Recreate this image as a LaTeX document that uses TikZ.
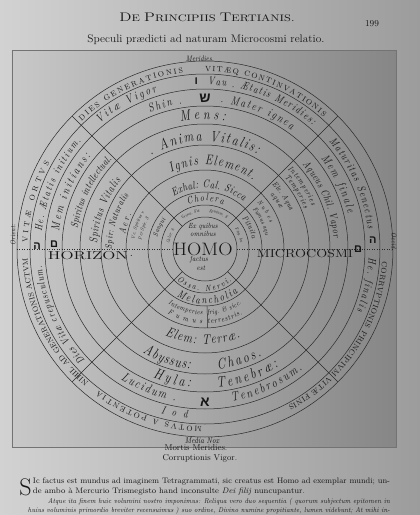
\documentclass[tikz,border=0pt]{standalone}
\usepackage{fontspec}
\usepackage{graphicx}
\usetikzlibrary{decorations.text}
\newfontfamily\heb{Liberation Sans}
\newfontfamily\cit{Latin Modern Roman}[FakeStretch=0.8]
\definecolor{ink}{HTML}{161616}
\definecolor{bgL}{HTML}{D2D2D2}
\definecolor{bgR}{HTML}{9C9C9C}
\definecolor{plL}{HTML}{C8C8C8}
\definecolor{plR}{HTML}{868686}
\definecolor{lineC}{HTML}{2A2A2A}
\newcommand\ftR{\fontsize{7.5}{8}\selectfont\rmfamily\upshape}
\newcommand\fs[1]{\fontsize{#1}{#1}\selectfont\cit\itshape}
\newcommand\ctext[5]{\path[decorate,decoration={text along path,text align=fit to path,text color=ink,text={|#4|#5}}] (#2:#1) arc[start angle=#2,end angle=#3,radius=#1];}
\begin{document}
\begin{tikzpicture}[x=1pt,y=1pt,
  ring/.style={draw=lineC,line width=0.5pt},
  lbl/.style={text=ink,inner sep=0pt,outer sep=0pt},
  hebl/.style={lbl,font=\heb\bfseries\fontsize{11}{11}\selectfont},
  para/.style={lbl,anchor=west,font=\rmfamily\fontsize{8.5}{9}\selectfont}]
\useasboundingbox (-205,249) rectangle (215,-266);
\shade[left color=bgL,right color=bgR] (-205,249) rectangle (215,-266);
\shade[left color=plL,right color=plR] (-193,199) rectangle (191,-198);
\draw[draw=black!55,line width=0.6pt] (-193,199) rectangle (191,-198);
\coordinate (c) at (0,0);
% circles
\foreach \r in {188,175,160,143,125,104,79,57,44,32}
  \draw[ring] (c) circle[radius=\r];
\foreach \a in {45,135,225,315}
  \draw[ring] (\a:32) -- (\a:188);
\draw[ring,dotted] (180:188) -- (180:32);
\draw[ring,dotted] (0:32) -- (0:188);
\draw[ring] (-88:57) -- (-88:79);
% ring 1
\ctext{177.5}{178}{151}{\ftR}{VITÆ ORTVS}
\ctext{177.5}{134}{97}{\ftR}{DIES GENERATIONIS}
\ctext{177.5}{90}{48}{\ftR}{VITÆQ CONTINVATIONIS}
\ctext{177.5}{-4}{-62}{\ftR}{CORRVPTIONIS PRINCIPIVM VITÆ FINIS}
\ctext{177.5}{-91}{-127}{\ftR}{MOTVS A POTENTIA}
\ctext{177.5}{-131}{-177}{\ftR}{NIHIL AD GENERATIONIS ACTVM}
% ring 2
\ctext{164}{223}{186}{\fs{10.5}}{Dies Vitæ crepusculum.}
\ctext{164}{174}{139}{\fs{10.5}}{He. Ætatis initium.}
\ctext{164}{130}{107}{\fs{12}}{Vitæ Vigor}
\ctext{164}{89}{49}{\fs{11}}{Vau . Ætatis Meridies:}
\ctext{164}{41}{7}{\fs{11}}{Maturitas Senectus}
\ctext{164}{-3}{-22}{\fs{11}}{He. finalis}
\ctext{170}{255}{264}{\fs{11}}{Iod}
% ring 3
\ctext{147}{173}{141}{\fs{12}}{Mem initians:}
\ctext{147}{112}{99}{\fs{12}}{Shin .}
\ctext{147}{84}{54}{\fs{12}}{. Mater ignea}
\ctext{147}{38}{14}{\fs{12}}{Mem finale}
\ctext{155}{237}{259}{\fs{13}}{Lucidum .}
\ctext{155}{280}{309}{\fs{13}}{Tenebrosum.}
% ring 4
\ctext{129}{171}{136}{\fs{10.5}}{Spiritus intellectual.}
\ctext{129.5}{101}{81}{\fs{15}}{Mens:}
\ctext{129}{41}{5}{\fs{10.5}}{Aqueus Chil. Vapor}
\ctext{139}{248}{264}{\fs{15}}{Hyla:}
\ctext{139}{275}{302}{\fs{15}}{Tenebræ:}
% ring 5
\ctext{108}{177}{141}{\fs{11.5}}{Spiritus Vitalis}
\ctext{108}{120}{61}{\fs{15}}{. Anima Vitalis:}
\ctext{115}{44}{22}{\fs{8}}{Intemperies}
\ctext{107}{42}{22}{\fs{8}}{Temperies}
\ctext{121}{239}{263}{\fs{15}}{Abyssus:}
\ctext{121}{276}{298}{\fs{15}}{Chaos.}
% ring 6
\ctext{84}{114}{55}{\fs{14}}{Ignis Element.}
\ctext{93}{180}{145}{\fs{9.5}}{Spir: Naturalis}
\ctext{81}{170}{155}{\fs{9.5}}{Aer.}
\ctext{93}{44}{24}{\fs{7.5}}{Ele. Aqua}
\ctext{85}{40}{28}{\fs{7.5}}{aquæ}
\ctext{95}{245}{292}{\fs{14}}{Elem: Terræ.}
% ring 7
\ctext{61}{121}{51}{\fs{11}}{Exhal: Cal. Sicca}
\ctext{71}{172}{148}{\fs{5}}{Ve. Spiritus vegetab.}
\ctext{64}{172}{150}{\fs{5}}{Per Spir. Sanguin.}
\ctext{70}{42}{22}{\fs{6.5}}{Nubes}
\ctext{62}{40}{12}{\fs{6.5}}{Fumus aqueus}
\ctext{66}{236}{268}{\fs{7}}{Intemperies}
\ctext{66}{272}{304}{\fs{7}}{frig. {\&} sicc.}
\ctext{75}{240}{268}{\fs{7.5}}{Fumus}
\ctext{75}{272}{300}{\fs{7.5}}{terrestris.}
% ring 8
\ctext{48}{111}{68}{\fs{10}}{Cholera}
\ctext{55}{239}{307}{\fs{11}}{Melancholia}
\ctext{49}{166}{142}{\fs{7}}{Sanguis}
\ctext{48}{40}{12}{\fs{8}}{Pituita}
% ring 9
\ctext{42}{228}{310}{\fs{8.5}}{Ossa. Nervi.}
\ctext{37}{128}{98}{\fs{4.5}}{Vrina. Fæces.}
\ctext{37}{84}{55}{\fs{4.5}}{Sputum. Sudor.}
\ctext{36}{172}{146}{\fs{4.5}}{Calor. humid.}
\ctext{36}{34}{8}{\fs{4.5}}{Frig. humid.}
% hebrew letters
\node[hebl] (hL2) at (179:168) {ה};
\node[hebl] (hL3) at (178:151) {ם};
\node[hebl] (hT2) at (93:168) {ו};
\node[hebl,font=\heb\bfseries\fontsize{14}{14}\selectfont] (hT3) at (90:151) {ש};
\node[hebl] (hR2) at (3:168) {ה};
\node[hebl] (hR3) at (0:153) {ם};
\node[hebl,font=\heb\bfseries\fontsize{14}{14}\selectfont] (hB3) at (-90:153) {א};
% center
\node[lbl,font=\rmfamily\fontsize{18}{18}\selectfont] (homo) at (-2,0) {\resizebox{59pt}{\height}{HOMO}};
\node[lbl,font=\cit\itshape\fontsize{7.5}{7.5}\selectfont] (exq) at (-2,22) {Ex quibus};
\node[lbl,font=\cit\itshape\fontsize{7.5}{7.5}\selectfont] (omn) at (-2,15) {omnibus};
\node[lbl,font=\cit\itshape\fontsize{7.5}{7.5}\selectfont] (fac) at (-6,-11) {factus};
\node[lbl,font=\cit\itshape\fontsize{7.5}{7.5}\selectfont] (est) at (-4,-19) {est};
\node[lbl,font=\rmfamily\fontsize{11.5}{12}\selectfont] (hor) at (-117,-7) {\resizebox{80pt}{\height}{HORIZON}};
\node[lbl,font=\rmfamily\fontsize{11.5}{12}\selectfont,anchor=west] (hordot) at (hor.east) {\,.};
\node[lbl,font=\rmfamily\fontsize{11}{12}\selectfont] (mic) at (100,-5) {\resizebox{96pt}{\height}{MICROCOSMI}};
% outside labels
\node[lbl,font=\cit\itshape\fontsize{8}{8}\selectfont] (mer) at (-5,190) {Meridies.};
\node[lbl,font=\cit\itshape\fontsize{8.5}{8.5}\selectfont] (nox) at (-3,-192) {Media Nox};
\node[lbl,font=\cit\itshape\fontsize{7}{7}\selectfont,rotate=90] (ori) at (-192,14) {Orient:};
\node[lbl,font=\cit\itshape\fontsize{7}{7}\selectfont,rotate=-90] (occ) at (189,7) {Occid.};
\node[lbl,font=\rmfamily\fontsize{8.5}{9}\selectfont] (mort) at (-9,-199) {Mortis Meridies.};
\node[lbl,font=\rmfamily\fontsize{8.5}{9}\selectfont] (corr) at (-5,-209) {Corruptionis Vigor.};
% header
\node[lbl,font=\rmfamily] (head) at (2,232) {\resizebox{175pt}{\height}{\fontsize{12.5}{13}\selectfont D\fontsize{9.5}{10}\selectfont E \fontsize{12.5}{13}\selectfont P\fontsize{9.5}{10}\selectfont RINCIPIIS \fontsize{12.5}{13}\selectfont T\fontsize{9.5}{10}\selectfont ERTIANIS.}};
\node[lbl,font=\rmfamily\fontsize{9}{9}\selectfont] (pg) at (167,225) {199};
\node[lbl,font=\rmfamily\fontsize{11}{12}\selectfont] (sub) at (1,209) {\resizebox{237pt}{\height}{Speculi prædicti ad naturam Microcosmi relatio.}};
% paragraph
\node[lbl,font=\rmfamily\fontsize{24}{24}\selectfont] (dropS) at (-179.5,-238) {S};
\node[para,font=\rmfamily\fontsize{8}{8}\selectfont] (p1) at (-172,-232.5) {\resizebox{357pt}{\height}{Ic factus est mundus ad imaginem Tetragrammati, sic creatus est Homo ad exemplar mundi; un-}};
\node[para,font=\rmfamily\fontsize{8}{8}\selectfont] (p2) at (-172,-243) {\resizebox{272pt}{\height}{de ambo à Mercurio Trismegisto hand inconsulte \textit{Dei filij} nuncupantur.}};
\node[para,font=\rmfamily\itshape\fontsize{7}{7}\selectfont] (p3) at (-157,-252.5) {\resizebox{342pt}{\height}{Atque ita finem huic volumini nostro imponimus: Reliqua vero duo sequentia ( quorum subjectum epitomen in}};
\node[para,font=\rmfamily\itshape\fontsize{7}{7}\selectfont] (p4) at (-177,-262) {\resizebox{362pt}{\height}{huius voluminis primordio breviter recensuimus ) suo ordine, Divino numine propitiante, lumen videbunt; At mihi in-}};
\end{tikzpicture}
\end{document}
